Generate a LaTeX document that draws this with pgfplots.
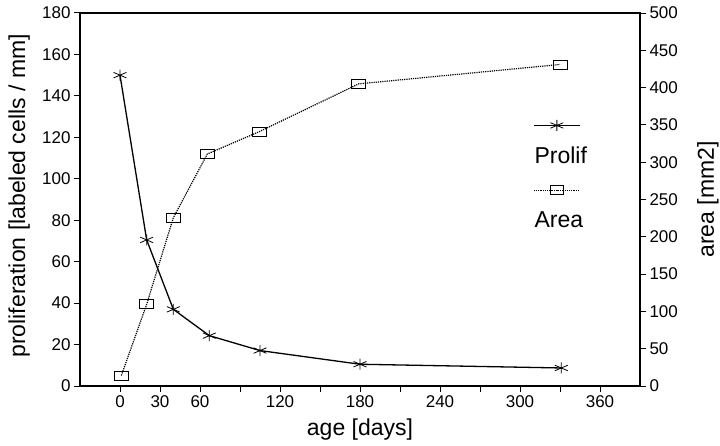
\documentclass[border=0pt]{standalone}
\usepackage{fontspec}
\setmainfont{Liberation Sans}
\usepackage{pgfplots}
\pgfplotsset{compat=1.18}

\pgfplotsset{
  prolifstyle/.style={black, line width=1.3pt, mark=asterisk, mark size=5.5pt,
    mark options={solid, line width=0.8pt, xscale=1.35}},
  areastyle/.style={black, line width=1.2pt, densely dotted, mark=square,
    mark size=4.5pt, mark options={solid, line width=0.8pt, xscale=1.55}},
  stackedlegend/.style={
    legend image code/.code={%
      \path (0pt,0pt);
      \begin{scope}[overlay]
        \draw[mark repeat=2, mark phase=2, ##1]
          plot coordinates {(0pt,30pt) (23pt,30pt) (46pt,30pt)};
      \end{scope}}},
}

\begin{document}
\begin{tikzpicture}
  \path[use as bounding box] (0,0) rectangle (720pt,445pt);

  \begin{axis}[
    name=main,
    at={(80pt,59pt)}, anchor=south west,
    scale only axis,
    width=560pt, height=373pt,
    xmin=-30, xmax=390,
    ymin=0, ymax=180,
    axis line style={line width=1.2pt},
    xtick={0,30,...,360},
    xticklabels={0,30,60,,120,,180,,240,,300,,360},
    ytick={0,20,...,180},
    xtick pos=bottom, ytick pos=left,
    tick align=outside,
    major tick length=6pt,
    tick style={line width=1pt, black},
    /pgf/number format/assume math mode=true,
    ticklabel style={font=\fontsize{17}{19}\selectfont},
    xlabel={age [days]},
    ylabel={proliferation [labeled cells / mm]},
    label style={font=\fontsize{23}{26}\selectfont},
    xlabel style={at={(axis description cs:0.5,0)}, anchor=base, yshift=-49pt},
    ylabel style={at={(axis description cs:-0.0982,0.51)}, anchor=base},
  ]
    \addplot[prolifstyle] coordinates {
      (0,150) (20,70.5) (40,37) (67,24.3) (105,17.1) (180,10.5) (331,8.7)
    };
  \end{axis}

  \begin{axis}[
    at={(80pt,59pt)}, anchor=south west,
    scale only axis,
    width=560pt, height=373pt,
    xmin=-30, xmax=390,
    ymin=0, ymax=500,
    axis x line=none,
    axis y line*=right,
    axis line style={line width=1.2pt, -},
    ytick={0,50,...,500},
    tick align=outside,
    major tick length=6pt,
    tick style={line width=1pt, black},
    /pgf/number format/assume math mode=true,
    ticklabel style={font=\fontsize{17}{19}\selectfont},
    ylabel={area [mm2]},
    label style={font=\fontsize{23}{26}\selectfont},
    ylabel style={at={(axis description cs:1.132,0.5)}, anchor=base, rotate=0},
    stackedlegend,
    legend style={draw=none, fill=none, inner sep=0pt,
      at={(0.809,0.643)}, anchor=north west,
      row sep=47pt, column sep=0pt,
      font=\fontsize{23}{26}\selectfont,
      nodes={inner sep=0pt}},
    legend cell align=left,
  ]
    \addlegendimage{prolifstyle}
    \addlegendentry{Prolif}
    \addplot[areastyle] coordinates {
      (1,14) (20,109.5) (40,225.6) (65.5,311) (104.5,341) (179,405) (330,431)
    };
    \addlegendentry{Area}
  \end{axis}
\end{tikzpicture}
\end{document}
